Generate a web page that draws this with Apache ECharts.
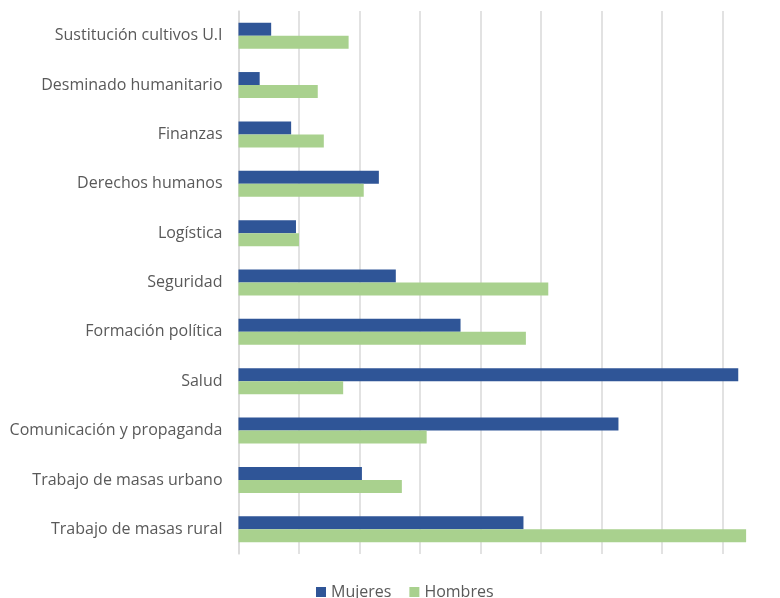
<!DOCTYPE html>
<html>
<head>
<meta charset="utf-8">
<script src="https://cdn.jsdelivr.net/npm/echarts@6/dist/echarts.min.js"></script>
<style>
  html, body { margin: 0; padding: 0; background: #ffffff; }
  #chart { width: 780px; height: 598px; }
</style>
</head>
<body>
<div id="chart"></div>
<script>
// Categories, top to bottom
const categories = [
  'Sustitución cultivos U.I',
  'Desminado humanitario',
  'Finanzas',
  'Derechos humanos',
  'Logística',
  'Seguridad',
  'Formación política',
  'Salud',
  'Comunicación y propaganda',
  'Trabajo de masas urbano',
  'Trabajo de masas rural'
];

const mujeres = [0.54, 0.35, 0.87, 2.32, 0.95, 2.60, 3.67, 8.26, 6.28, 2.04, 4.71];
const hombres = [1.82, 1.31, 1.41, 2.07, 1.00, 5.12, 4.75, 1.73, 3.11, 2.70, 8.39];

const seriesNames = ['Mujeres', 'Hombres'];

const chart = echarts.init(document.getElementById('chart'));

const labelFont = 'Open Sans, Liberation Sans, sans-serif';

chart.setOption({
  animation: false,
  backgroundColor: '#ffffff',
  grid: { left: 238.5, right: 0, top: 11, bottom: 44, containLabel: false },
  legend: {
    data: seriesNames,
    top: 583,
    left: 316,
    itemWidth: 10,
    itemHeight: 10,
    itemGap: 18,
    icon: 'rect',
    padding: 0,
    textStyle: { color: '#595959', fontSize: 16, fontFamily: labelFont, lineHeight: 18 }
  },
  xAxis: {
    type: 'value',
    min: 0,
    // the plot ends just short of the next gridline
    max: 8.95,
    interval: 1,
    axisLabel: { show: false },
    axisLine: { show: false },
    axisTick: { show: false },
    splitLine: { show: true, showMaxLine: false, lineStyle: { color: '#d9d9d9', width: 1.5 } }
  },
  yAxis: {
    type: 'category',
    data: categories,
    inverse: true,
    axisLine: { show: true, lineStyle: { color: '#d9d9d9', width: 1.5 } },
    axisTick: { show: false },
    axisLabel: {
      color: '#595959',
      fontSize: 16,
      fontFamily: labelFont,
      margin: 16
    }
  },
  series: [
    {
      name: seriesNames[0],
      type: 'bar',
      data: mujeres,
      barWidth: 13,
      barGap: '0%',
      itemStyle: { color: '#2F5597' }
    },
    {
      name: seriesNames[1],
      type: 'bar',
      data: hombres,
      barWidth: 13,
      barGap: '0%',
      itemStyle: { color: '#A9D18E' }
    }
  ]
});
</script>
</body>
</html>
